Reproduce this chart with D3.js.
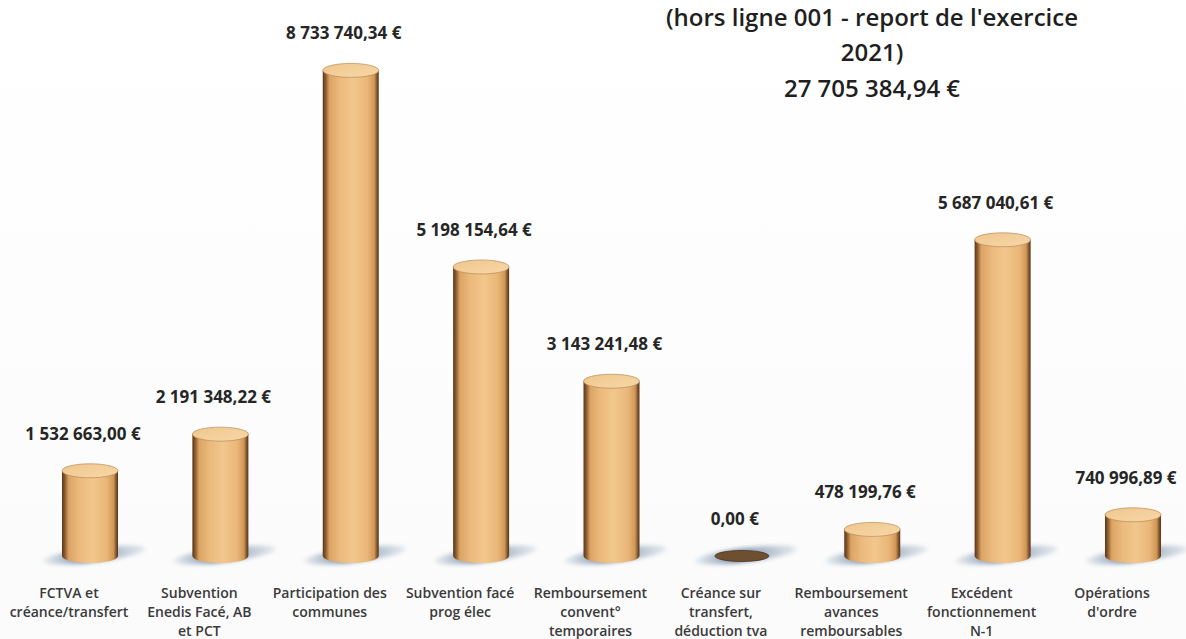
<!DOCTYPE html>
<html><head><meta charset="utf-8">
<script src="https://cdn.jsdelivr.net/npm/d3@7"></script>
<style>html,body{margin:0;padding:0;background:#fff;}svg{display:block;}</style>
</head><body>
<script>
const categories = [
  ["FCTVA et","créance/transfert"],
  ["Subvention","Enedis Facé, AB","et PCT"],
  ["Participation des","communes"],
  ["Subvention facé","prog élec"],
  ["Remboursement","convent°","temporaires"],
  ["Créance sur","transfert,","déduction tva"],
  ["Remboursement","avances","remboursables"],
  ["Excédent","fonctionnement","N-1"],
  ["Opérations","d'ordre"]
];
const values = [1532663.00, 2191348.22, 8733740.34, 5198154.64, 3143241.48, 0.00, 478199.76, 5687040.61, 740996.89];
const valueLabels = ["1 532 663,00 €","2 191 348,22 €","8 733 740,34 €","5 198 154,64 €","3 143 241,48 €","0,00 €","478 199,76 €","5 687 040,61 €","740 996,89 €"];
const titleLines = ["(hors ligne 001 - report de l'exercice","2021)","27 705 384,94 €"];

const W = 1186, H = 639;
const svg = d3.select("body").append("svg").attr("width", W).attr("height", H);
const defs = svg.append("defs");

const bgGrad = defs.append("linearGradient").attr("id","bg").attr("x1",0).attr("y1",0).attr("x2",0).attr("y2",1);
bgGrad.append("stop").attr("offset","0%").attr("stop-color","#ffffff");
bgGrad.append("stop").attr("offset","100%").attr("stop-color","#fbfbfb");
svg.append("rect").attr("width",W).attr("height",H).attr("fill","url(#bg)");

const bodyGrad = defs.append("linearGradient").attr("id","body").attr("x1",0).attr("y1",0).attr("x2",1).attr("y2",0);
[["0%","#5a3518"],["5%","#8a5a2c"],["12%","#dba465"],["30%","#ebb97b"],["55%","#f2c78d"],["80%","#e9b677"],["92%","#d09757"],["97%","#7d5128"],["100%","#5a3518"]]
  .forEach(s=>bodyGrad.append("stop").attr("offset",s[0]).attr("stop-color",s[1]));
const topGrad = defs.append("linearGradient").attr("id","topg").attr("x1",0).attr("y1",0).attr("x2",1).attr("y2",1);
topGrad.append("stop").attr("offset","0%").attr("stop-color","#efc68d");
topGrad.append("stop").attr("offset","100%").attr("stop-color","#f7d8a8");

const shGrad = defs.append("linearGradient").attr("id","shadow").attr("x1",0).attr("y1",0).attr("x2",1).attr("y2",0);
shGrad.append("stop").attr("offset","0%").attr("stop-color","#8fa3b9").attr("stop-opacity",0.15);
shGrad.append("stop").attr("offset","40%").attr("stop-color","#6f87a2").attr("stop-opacity",1);
shGrad.append("stop").attr("offset","100%").attr("stop-color","#8fa3b9").attr("stop-opacity",0.2);
defs.append("filter").attr("id","blur").attr("x","-30%").attr("y","-100%").attr("width","160%").attr("height","300%")
  .append("feGaussianBlur").attr("stdDeviation",2.2);

const x = d3.scalePoint().domain(d3.range(categories.length)).range([90, 1133]);
const y = d3.scaleLinear().domain([0, 9000000]).range([556, 55.6]);

const bw = 56, ry = 7;

const g = svg.append("g");
values.forEach((v,i)=>{
  const cx = x(i), y0 = y(0), y1 = y(v);
  const gg = g.append("g");
  gg.append("ellipse").attr("cx", cx+4).attr("cy", y0-1).attr("rx", 52).attr("ry", 7)
    .attr("transform", `rotate(-7 ${cx+4} ${y0-1})`)
    .attr("fill","url(#shadow)").attr("filter","url(#blur)");
  if (v === 0) {
    gg.append("ellipse").attr("cx", cx).attr("cy", y0).attr("rx", bw/2-1).attr("ry", 5.5)
      .attr("fill","#6e4f30").attr("stroke","#4a3420").attr("stroke-width",0.8);
    return;
  }
  gg.append("path")
    .attr("d", `M${cx-bw/2},${y1} L${cx-bw/2},${y0} A${bw/2},${ry} 0 0 0 ${cx+bw/2},${y0} L${cx+bw/2},${y1} Z`)
    .attr("fill","url(#body)");
  gg.append("ellipse").attr("cx", cx).attr("cy", y1).attr("rx", bw/2).attr("ry", ry)
    .attr("fill","url(#topg)").attr("stroke","#b98a55").attr("stroke-width",0.7);
});

g.selectAll("text.val").data(values).join("text").attr("class","val")
  .attr("x",(d,i)=>x(i)-7).attr("y",d=>y(d)-31)
  .attr("text-anchor","middle")
  .attr("font-family","'Open Sans', sans-serif").attr("font-weight",700).attr("font-size",17)
  .attr("fill","#262626")
  .text((d,i)=>valueLabels[i]);

categories.forEach((lines,i)=>{
  const t = g.append("text").attr("text-anchor","middle")
    .attr("font-family","'Open Sans', sans-serif").attr("font-weight",600).attr("font-size",14)
    .attr("fill","#3a3a3a");
  lines.forEach((l,j)=>t.append("tspan").attr("x",x(i)-21).attr("y",598+j*19).text(l));
});

svg.append("g").selectAll("text").data(titleLines).join("text")
  .attr("x",872).attr("y",(d,i)=>[26,61,97][i])
  .attr("text-anchor","middle")
  .attr("font-family","'Open Sans', sans-serif").attr("font-weight",600).attr("font-size",24)
  .attr("fill","#1f1f1f")
  .text(d=>d);
</script>
</body></html>
